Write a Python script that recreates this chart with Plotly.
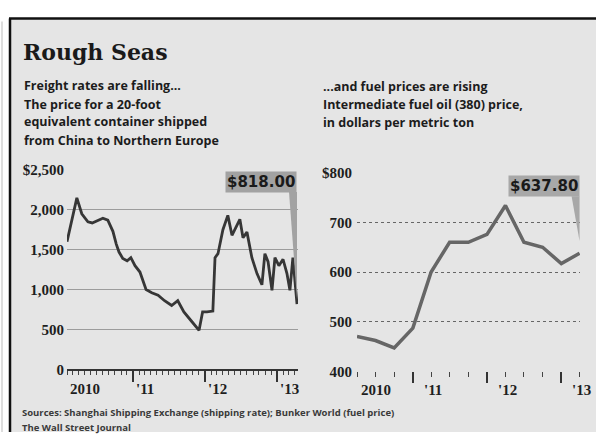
import plotly.graph_objects as go

# ---------------- data ----------------
freight_dates = [
    "2010-01-31", "2010-03-22", "2010-04-16", "2010-05-17", "2010-06-08", "2010-07-01",
    "2010-08-01", "2010-08-26", "2010-09-21", "2010-10-08", "2010-10-22", "2010-11-10",
    "2010-12-02", "2010-12-21", "2011-01-11", "2011-02-05", "2011-03-08", "2011-04-06",
    "2011-05-08", "2011-06-10", "2011-07-16", "2011-08-16", "2011-09-16", "2011-10-26",
    "2011-12-02", "2011-12-20", "2012-01-11", "2012-02-10", "2012-02-21", "2012-03-07",
    "2012-04-01", "2012-04-26", "2012-05-17", "2012-06-06", "2012-06-26", "2012-07-12",
    "2012-08-01", "2012-08-26", "2012-09-21", "2012-10-16", "2012-10-31", "2012-11-16",
    "2012-12-06", "2012-12-21", "2013-01-10", "2013-01-31", "2013-02-20", "2013-03-07",
    "2013-03-22", "2013-04-12",
]
freight_values = [
    1600, 2150, 1950, 1850, 1835, 1860,
    1895, 1870, 1730, 1570, 1470, 1390,
    1360, 1400, 1300, 1220, 1000, 960,
    930, 860, 800, 860, 720, 600,
    490, 720, 720, 730, 1400, 1450,
    1750, 1930, 1680, 1780, 1880, 1650,
    1720, 1400, 1200, 1060, 1450, 1350,
    990, 1400, 1300, 1380, 1200, 990,
    1400, 818,
]

fuel_dates = [
    "2010-04-01", "2010-07-01", "2010-10-01", "2011-01-01", "2011-04-01", "2011-07-01",
    "2011-10-01", "2012-01-01", "2012-04-01", "2012-07-01", "2012-10-01", "2013-01-01",
    "2013-04-01",
]
fuel_values = [470, 462, 447, 487, 600, 660, 660, 676, 734, 660, 650, 617, 637.8]

freight_yticks = [0, 500, 1000, 1500, 2000, 2500]
freight_yticktext = ["0", "500", "1,000", "1,500", "2,000", "$2,500"]
fuel_yticks = [400, 500, 600, 700, 800]
fuel_yticktext = ["400", "500", "600", "700", "$800"]

year_ticks = ["2011-01-01", "2012-01-01", "2013-01-01"]
freight_xlabel_dates = ["2010-01-31", "2011-01-01", "2012-01-01", "2013-01-01"]
fuel_xlabel_dates = ["2010-04-01", "2011-01-01", "2012-01-01", "2013-01-01"]
xlabel_text = ["2010", "'11", "'12", "'13"]

freight_range = ["2010-01-31", "2013-04-17"]
fuel_range = ["2010-04-01", "2013-04-03"]

W, H = 596, 440


def px(x):
    return x / W


def py(y):
    return 1 - y / H


fig = go.Figure()
fig.add_trace(go.Scatter(x=freight_dates, y=freight_values, mode="lines",
                         line=dict(color="#363636", width=2.8), xaxis="x", yaxis="y",
                         hoverinfo="skip", cliponaxis=False))
fig.add_trace(go.Scatter(x=fuel_dates, y=fuel_values, mode="lines",
                         line=dict(color="#666666", width=3.5), xaxis="x2", yaxis="y2",
                         hoverinfo="skip", cliponaxis=False))

tick_font = dict(family="Liberation Serif", size=15, color="#1e1e1e", weight="bold")

fig.update_layout(
    width=W, height=H,
    margin=dict(l=0, r=0, t=0, b=0),
    paper_bgcolor="white",
    plot_bgcolor="rgba(0,0,0,0)",
    showlegend=False,
    xaxis=dict(domain=[px(67), px(298)], range=freight_range, type="date",
               anchor="y", showgrid=False, zeroline=False,
               showline=True, linecolor="#333333", linewidth=1.5,
               tickmode="array", tickvals=year_ticks, ticktext=["", "", ""],
               showticklabels=True,
               ticks="outside", ticklen=11, tickwidth=1.5, tickcolor="#333333",
               minor=dict(ticks="outside", dtick="M1", tick0="2010-01-01",
                          ticklen=4, tickwidth=1.2, tickcolor="#444444", showgrid=False)),
    yaxis=dict(domain=[py(375), py(168)], range=[0, 2500], anchor="x",
               tickmode="array", tickvals=freight_yticks, ticktext=freight_yticktext,
               tickfont=tick_font, ticks="", ticklabelstandoff=2,
               showgrid=True, gridcolor="#9c9c9c", gridwidth=1,
               zeroline=False, showline=False),
    xaxis2=dict(domain=[px(357), px(580)], range=fuel_range, type="date",
                anchor="y2", showgrid=False, zeroline=False, showline=False,
                tickmode="array", tickvals=year_ticks, ticktext=["", "", ""],
                showticklabels=True,
                ticks="outside", ticklen=11, tickwidth=1.5, tickcolor="#333333",
                minor=dict(ticks="outside", dtick="M3", tick0="2010-01-01",
                           ticklen=5, tickwidth=1.2, tickcolor="#444444", showgrid=False)),
    yaxis2=dict(domain=[py(377), py(171)], range=[400, 800], anchor="x2",
                tickmode="array", tickvals=fuel_yticks, ticktext=fuel_yticktext,
                tickfont=tick_font, ticks="", ticklabelstandoff=4,
                showgrid=True, gridcolor="#666666", gridwidth=1, griddash="dot",
                zeroline=False, showline=False),
)

shapes = [
    # background panel
    dict(type="rect", xref="paper", yref="paper", x0=px(10), x1=1, y0=0, y1=py(11),
         fillcolor="#e5e5e5", line=dict(width=0), layer="below"),
    dict(type="line", xref="paper", yref="paper", x0=px(10), x1=px(10), y0=0, y1=py(11),
         line=dict(color="#111111", width=2.5)),
    dict(type="line", xref="paper", yref="paper", x0=px(9), x1=1, y0=py(11), y1=py(11),
         line=dict(color="#111111", width=2.5)),
    dict(type="line", xref="paper", yref="paper", x0=px(2), x1=px(2), y0=0, y1=py(14),
         line=dict(color="#bbbbbb", width=1)),
    # callout wedges anchored to the last data point
    dict(type="path", xref="x", yref="y", xsizemode="pixel", ysizemode="pixel",
         xanchor=freight_dates[-1], yanchor=freight_values[-1],
         path="M -8,112 L 0,112 L 0,5 Z", fillcolor="#a2a2a2", line=dict(width=0)),
    dict(type="path", xref="x2", yref="y2", xsizemode="pixel", ysizemode="pixel",
         xanchor=fuel_dates[-1], yanchor=fuel_values[-1],
         path="M -8,57 L 0,57 L 0,12 Z", fillcolor="#a8a8a8", line=dict(width=0)),
]
fig.update_layout(shapes=shapes)

ann = []
# callout boxes
ann.append(dict(x=freight_dates[-1], y=freight_values[-1], xref="x", yref="y",
                text="$%.2f" % freight_values[-1], showarrow=False,
                xanchor="right", yanchor="bottom", yshift=111,
                bgcolor="#a2a2a2", borderpad=1,
                font=dict(family="DejaVu Sans", size=15, color="#1a1a1a", weight="bold")))
ann.append(dict(x=fuel_dates[-1], y=fuel_values[-1], xref="x2", yref="y2",
                text="$%.2f" % fuel_values[-1], showarrow=False,
                xanchor="right", yanchor="bottom", yshift=56,
                bgcolor="#a8a8a8", borderpad=1,
                font=dict(family="DejaVu Sans", size=15, color="#1a1a1a", weight="bold")))

# x tick labels (left-aligned at each year tick)
lab_font = dict(family="Liberation Serif", size=15, color="#1e1e1e", weight="bold")
for d, t in zip(freight_xlabel_dates, xlabel_text):
    ann.append(dict(x=d, y=0, xref="x", yref="y", text=t, showarrow=False,
                    xanchor="left", yanchor="middle", yshift=-20, xshift=1, font=lab_font))
for d, t in zip(fuel_xlabel_dates, xlabel_text):
    ann.append(dict(x=d, y=400, xref="x2", yref="y2", text=t, showarrow=False,
                    xanchor="left", yanchor="middle", yshift=-19,
                    xshift=2 if t == "2010" else 9, font=lab_font))

# titles
def text(x, y, s, size, family="Open Sans", color="#1c1c1c", weight="bold"):
    ann.append(dict(x=px(x), y=py(y), xref="paper", yref="paper", text=s,
                    showarrow=False, xanchor="left", yanchor="middle",
                    font=dict(family=family, size=size, color=color, weight=weight)))


text(21, 46, "Rough Seas", 22, family="DejaVu Serif", color="#1a1a1a")
text(22, 80, "Freight rates are falling...", 12.5)
text(22, 100, "The price for a 20-foot", 12.5)
text(22, 118, "equivalent container shipped", 12.5)
text(22, 137, "from China to Northern Europe", 12.5)
text(321, 81, "...and fuel prices are rising", 12.5)
text(321, 100, "Intermediate fuel oil (380) price,", 12.5)
text(321, 119, "in dollars per metric ton", 12.5)
text(20, 420, "Sources: Shanghai Shipping Exchange (shipping rate); Bunker World (fuel price)",
     9.5, color="#3a3a3a")
text(20, 435, "The Wall Street Journal", 9.5, color="#3a3a3a")

fig.update_layout(annotations=ann)
fig.write_html("out.html", config={"displayModeBar": False},
               post_script="document.body.style.margin='0';document.body.style.overflow='hidden';")
